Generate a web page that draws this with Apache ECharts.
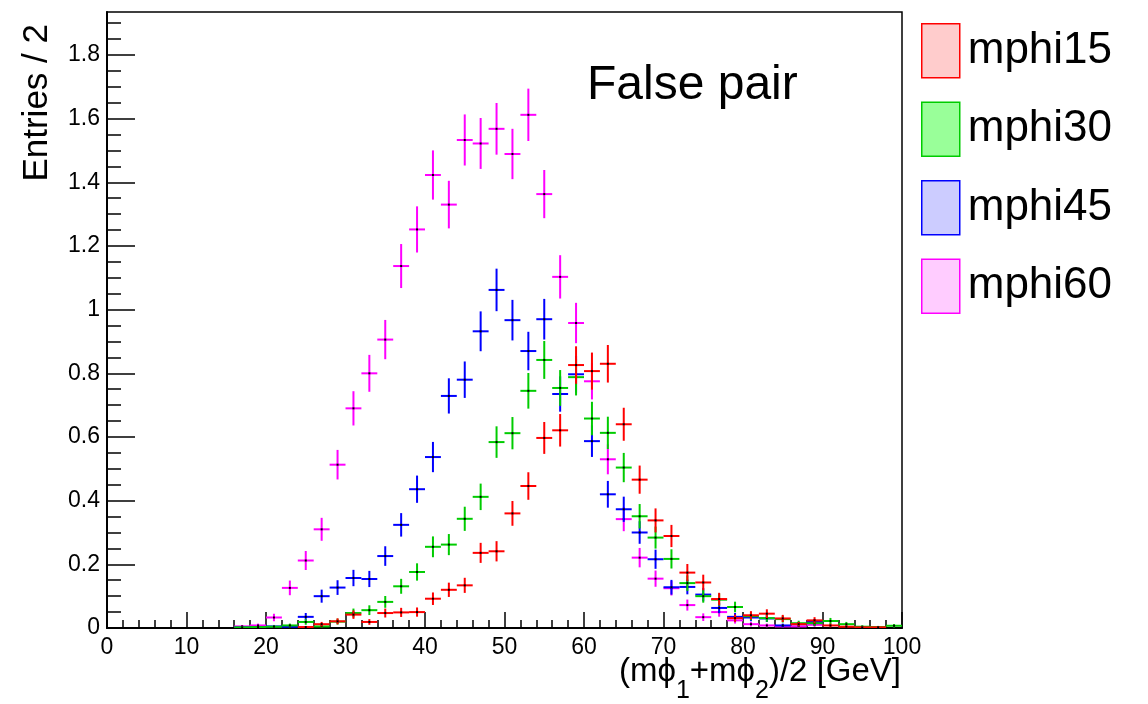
<!DOCTYPE html>
<html>
<head>
<meta charset="utf-8">
<title>False pair</title>
<script src="https://cdn.jsdelivr.net/npm/echarts@6/dist/echarts.min.js"></script>
<style>
    html, body { margin: 0; padding: 0; background: #fff; }
    #chartBody { width: 1148px; height: 704px; }
</style>
</head>
<body>
<div id="chartBody"></div>
<script>
// bin centres (GeV), bins are 2 GeV wide; bins below 16 GeV are empty
var binCenters = [17, 19, 21, 23, 25, 27, 29, 31, 33, 35, 37, 39, 41, 43, 45, 47, 49, 51, 53, 55, 57,
                  59, 61, 63, 65, 67, 69, 71, 73, 75, 77, 79, 81, 83, 85, 87, 89, 91, 93, 95, 97, 99];

var mphi15 = [0, 0, 0, 0, 0.003, 0.012, 0.021, 0.042, 0.019, 0.047, 0.049, 0.05, 0.092, 0.12, 0.134,
              0.236, 0.241, 0.36, 0.446, 0.597, 0.621, 0.826, 0.807, 0.83, 0.64, 0.466, 0.338, 0.289,
              0.174, 0.143, 0.091, 0.031, 0.04, 0.045, 0.03, 0.012, 0.024, 0.008, 0.004, 0.002, 0.002, 0];
var mphi30 = [0.002, 0.003, 0.004, 0.008, 0.019, 0.005, 0.02, 0.047, 0.056, 0.082, 0.131, 0.176, 0.255,
              0.262, 0.343, 0.412, 0.584, 0.612, 0.745, 0.842, 0.754, 0.788, 0.658, 0.613, 0.504, 0.351,
              0.284, 0.217, 0.141, 0.1, 0.089, 0.066, 0.037, 0.031, 0.028, 0.015, 0.015, 0.022, 0.012,
              0.004, 0.003, 0.007];
var mphi45 = [0.002, 0.003, 0.005, 0.004, 0.035, 0.1, 0.127, 0.157, 0.154, 0.226, 0.324, 0.436, 0.537,
              0.729, 0.78, 0.932, 1.062, 0.967, 0.87, 0.97, 0.735, 0.797, 0.587, 0.42, 0.373, 0.3, 0.216,
              0.128, 0.129, 0.105, 0.063, 0.035, 0.033, 0.03, 0.008, 0.012, 0.019, 0, 0, 0, 0, 0];
var mphi60 = [0.005, 0.008, 0.033, 0.126, 0.212, 0.31, 0.513, 0.69, 0.8, 0.906, 1.137, 1.252, 1.423,
              1.33, 1.533, 1.522, 1.568, 1.489, 1.612, 1.363, 1.103, 0.958, 0.775, 0.53, 0.342, 0.221,
              0.155, 0.125, 0.072, 0.034, 0.05, 0.024, 0.012, 0.008, 0.005, 0.005, 0.01, 0, 0, 0, 0, 0];

// weight of one MC entry, error on a bin = sqrt(content * weight)
var entryWeight = 0.0042;
var binWidth = 2;

var seriesNames = ['mphi15', 'mphi30', 'mphi45', 'mphi60'];
var lineColors = ['#ff0000', '#00cc00', '#0000ff', '#ff00ff'];
var fillColors = ['#ffcccc', '#99ff99', '#ccccff', '#ffccff'];

var yMajorTicks = [0, 0.2, 0.4, 0.6, 0.8, 1, 1.2, 1.4, 1.6, 1.8];
var yMax = 1.935;

var fontName = '"Liberation Sans", Arial, Helvetica, sans-serif';

function histPoints(values) {
    var res = [];
    for (var i = 0; i < binCenters.length; i++) {
        if (values[i] > 0) {
            res.push([binCenters[i], values[i], Math.sqrt(values[i] * entryWeight)]);
        }
    }
    return res;
}

function renderCross(params, api) {
    var x = api.value(0);
    var y = api.value(1);
    var e = api.value(2);
    var c = api.coord([x, y]);
    var l = api.coord([x - binWidth / 2, y]);
    var r = api.coord([x + binWidth / 2, y]);
    var t = api.coord([x, y + e]);
    var b = api.coord([x, Math.max(y - e, 0)]);
    var color = api.visual('color');
    return {
        type: 'group',
        children: [
            {type: 'line', shape: {x1: l[0], y1: c[1], x2: r[0], y2: c[1]}, style: {stroke: color, lineWidth: 2}},
            {type: 'line', shape: {x1: c[0], y1: t[1], x2: c[0], y2: b[1]}, style: {stroke: color, lineWidth: 2}},
            {type: 'rect', shape: {x: c[0] - 1, y: c[1] - 1, width: 2, height: 2}, style: {fill: '#000'}}
        ]
    };
}

function xTitleGraphics() {
    // (mϕ1+mϕ2)/2 [GeV] with subscripts, right aligned on the axis end
    var pieces = [['(mϕ', 0], ['1', 1], ['+mϕ', 0], ['2', 1], [')/2 [GeV]', 0]];
    var mainFont = '33px ' + fontName;
    var subFont = '25px ' + fontName;
    var ctx = document.createElement('canvas').getContext('2d');
    var widths = [];
    var total = 0;
    for (var i = 0; i < pieces.length; i++) {
        ctx.font = pieces[i][1] ? subFont : mainFont;
        widths.push(ctx.measureText(pieces[i][0]).width);
        total += widths[i];
    }
    var x = 901 - total;
    var out = [];
    for (var j = 0; j < pieces.length; j++) {
        var sub = pieces[j][1];
        out.push({
            type: 'text',
            x: x,
            y: sub ? 700 - 25 * 0.35 : 683 - 33 * 0.35,
            style: {
                text: pieces[j][0],
                font: sub ? subFont : mainFont,
                fill: '#000',
                textAlign: 'left',
                textVerticalAlign: 'middle'
            }
        });
        x += widths[j];
    }
    return out;
}

function getFalsePair() {
    var dom = document.getElementById('chartBody');
    var myChart = echarts.init(dom, null, {renderer: 'canvas'});
    var option = null;

    var yMinorTicks = [];
    for (var k = 1; k * 0.05 < yMax; k++) {
        if (k % 4 !== 0) yMinorTicks.push(Math.round(k * 5) / 100);
    }

    var series = [];
    var allValues = [mphi15, mphi30, mphi45, mphi60];
    // draw the heavy one first so mphi15 ends up on top
    for (var s = 3; s >= 0; s--) {
        series.push({
            name: seriesNames[s],
            type: 'custom',
            renderItem: renderCross,
            clip: true,
            itemStyle: {color: lineColors[s]},
            encode: {x: 0, y: 1},
            data: histPoints(allValues[s]),
            z: 10 - s
        });
    }

    var legendData = [];
    for (var n = 0; n < seriesNames.length; n++) {
        legendData.push({
            name: seriesNames[n],
            itemStyle: {color: fillColors[n], borderColor: lineColors[n], borderWidth: 1.5}
        });
    }

    option = {
        animation: false,
        backgroundColor: '#fff',
        textStyle: {fontFamily: fontName},
        grid: {
            left: 107,
            right: 246,
            top: 12,
            bottom: 76,
            show: true,
            borderColor: '#000',
            borderWidth: 1.5,
            backgroundColor: 'transparent'
        },
        legend: {
            orient: 'vertical',
            left: 921,
            top: 23,
            padding: 0,
            icon: 'rect',
            itemWidth: 38,
            itemHeight: 54,
            itemGap: 23,
            selectedMode: false,
            textStyle: {fontSize: 44, color: '#000', fontFamily: fontName, padding: [0, 0, 0, 3]},
            data: legendData
        },
        xAxis: {
            type: 'value',
            min: 0,
            max: 100,
            interval: 10,
            axisLine: {show: true, lineStyle: {color: '#000', width: 2}},
            axisTick: {show: true, inside: true, length: 16, lineStyle: {color: '#000', width: 1.5}},
            minorTick: {show: true, splitNumber: 5, length: 8, lineStyle: {color: '#000', width: 1.5}},
            splitLine: {show: false},
            axisLabel: {show: true, margin: 8, fontSize: 23, color: '#000', fontFamily: fontName}
        },
        yAxis: [
            {
                type: 'value',
                min: 0,
                max: yMax,
                axisLine: {show: true, lineStyle: {color: '#000', width: 2}},
                axisTick: {show: true, inside: true, length: 28, customValues: yMajorTicks,
                           lineStyle: {color: '#000', width: 1.5}},
                splitLine: {show: false},
                axisLabel: {show: true, margin: 7, fontSize: 23, color: '#000', fontFamily: fontName,
                            customValues: yMajorTicks}
            },
            {
                type: 'value',
                min: 0,
                max: yMax,
                position: 'left',
                offset: 0,
                axisLine: {show: false},
                axisTick: {show: true, inside: true, length: 14, customValues: yMinorTicks,
                           lineStyle: {color: '#000', width: 1.5}},
                splitLine: {show: false},
                axisLabel: {show: false}
            }
        ],
        graphic: [
            {
                type: 'text',
                x: 587,
                y: 86,
                style: {
                    text: 'False pair',
                    font: '48px ' + fontName,
                    fill: '#000',
                    textAlign: 'left',
                    textVerticalAlign: 'middle'
                }
            },
            {
                type: 'text',
                x: 37,
                y: 24,
                rotation: Math.PI / 2,
                style: {
                    text: 'Entries / 2',
                    font: '35px ' + fontName,
                    fill: '#000',
                    textAlign: 'right',
                    textVerticalAlign: 'middle'
                }
            }
        ].concat(xTitleGraphics()),
        series: series
    };

    if (option && typeof option === "object") {
        myChart.setOption(option, true);
    }
}

getFalsePair();
</script>
</body>
</html>
